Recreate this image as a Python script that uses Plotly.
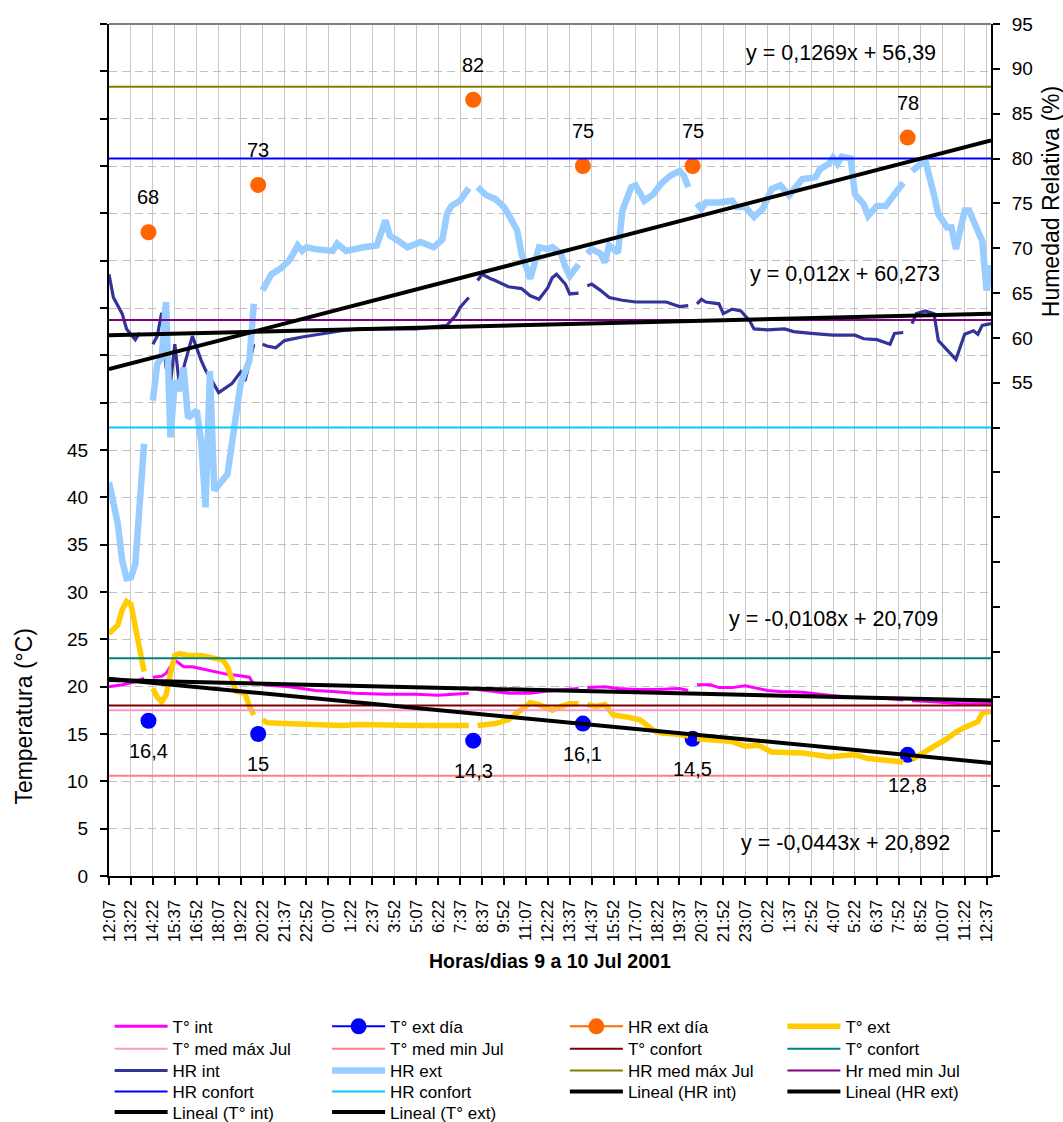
import plotly.graph_objects as go

SANS = "Liberation Sans, Arial, sans-serif"

# ---- category axis: 15-min log rows plus inserted daily spot rows ----
n_rows = 202
time_ticks = ["12:07", "13:22", "14:22", "15:37", "16:52", "18:07", "19:22", "20:22",
              "21:37", "22:52", "0:07", "1:22", "2:37", "3:52", "5:07", "6:22", "7:37",
              "8:37", "9:52", "11:07", "12:22", "13:37", "14:37", "15:52", "17:07",
              "18:22", "19:37", "20:37", "21:52", "23:07", "0:22", "1:37", "2:52",
              "4:07", "5:22", "6:37", "7:52", "8:52", "10:07", "11:22", "12:37"]
tick_rows = list(range(1, n_rows, 5))

# ---- daily spot readings (own rows in the log) ----
dia_rows = [10, 35, 84, 109, 134, 183]
t_ext_dia = [16.4, 15, 14.3, 16.1, 14.5, 12.8]
hr_ext_dia = [68, 73, 82, 75, 75, 78]

# ---- logged series {row: value} ----
t_int = {1: 20.0, 4: 20.2, 7: 20.5, 9: 20.9, 11: 21.0, 13: 21.1, 14: 21.4, 16: 22.8,
         18: 22.1, 20: 22.1, 21: 22.0, 23: 21.8, 26: 21.5, 28: 21.3, 30: 21.2, 32: 21.1,
         33: 21.0, 34: 20.2, 36: 20.2, 39: 20.1, 42: 20.0, 45: 19.8, 48: 19.6, 52: 19.5,
         57: 19.3, 64: 19.2, 71: 19.2, 76: 19.1, 82: 19.3, 83: 19.3, 85: 19.7, 89: 19.5,
         92: 19.3, 97: 19.3, 100: 19.5, 105: 19.7, 108: 19.8, 110: 19.9, 114: 20.0,
         117: 19.8, 121: 19.7, 126: 19.7, 131: 19.8, 133: 19.6, 135: 20.2, 138: 20.2,
         140: 19.9, 143: 19.9, 146: 20.1, 148: 19.9, 151: 19.6, 154: 19.5, 159: 19.4,
         165: 19.1, 170: 18.9, 177: 18.8, 182: 18.6, 184: 18.5, 189: 18.4, 195: 18.2,
         202: 18.2}

t_ext = {1: 25.6, 3: 26.5, 4: 28.1, 5: 29.0, 6: 28.7, 7: 26.3, 8: 23.5, 9: 21.6,
         11: 19.8, 12: 18.9, 13: 18.4, 14: 19.1, 15: 21.4, 16: 23.3, 17: 23.5, 19: 23.3,
         22: 23.3, 25: 23.0, 27: 22.8, 28: 22.1, 29: 20.7, 30: 19.5, 32: 19.3, 33: 17.9,
         34: 17.0, 36: 16.5, 37: 16.2, 41: 16.1, 45: 16.0, 49: 15.9, 54: 15.9, 58: 16.0,
         64: 15.9, 71: 15.9, 79: 15.9, 83: 15.9, 85: 15.9, 89: 16.1, 92: 16.5, 95: 17.5,
         97: 18.3, 99: 18.1, 102: 17.5, 104: 17.9, 106: 18.2, 108: 18.2, 110: 18.1,
         112: 17.9, 114: 18.1, 116: 17.0, 119: 16.8, 122: 16.5, 125: 15.4, 127: 15.1,
         130: 15.0, 132: 14.9, 133: 14.8, 135: 14.5, 137: 14.4, 139: 14.4, 143: 14.2,
         146: 13.7, 149: 13.8, 152: 13.1, 156: 13.1, 159: 13.0, 162: 12.8, 165: 12.6,
         168: 12.7, 171: 12.8, 174: 12.4, 178: 12.3, 181: 12.1, 182: 12.0, 184: 12.3,
         185: 12.6, 189: 13.7, 192: 14.5, 194: 15.2, 196: 15.7, 199: 16.3, 200: 17.2,
         202: 17.4}

hr_int = {1: 67.1, 2: 64.5, 4: 62.7, 5: 61.0, 7: 59.8, 8: 60.6, 11: 59.3, 12: 60.2,
          13: 62.8, 14: 56.7, 15: 54.9, 16: 59.3, 17: 54.9, 18: 56.7, 19: 58.2, 20: 60.2,
          22: 57.5, 23: 56.4, 24: 55.6, 26: 53.9, 29: 54.9, 31: 56.2, 32: 55.2, 34: 59.3,
          36: 59.3, 37: 59.1, 39: 58.9, 41: 59.7, 45: 60.1, 49: 60.4, 54: 60.8, 58: 61.0,
          64: 61.0, 71: 61.0, 78: 61.4, 80: 62.5, 81: 63.4, 83: 64.5, 85: 66.4, 86: 67.1,
          88: 66.6, 89: 66.4, 92: 65.7, 95: 65.5, 97: 64.7, 99: 64.3, 101: 65.6, 102: 66.7,
          103: 67.1, 105: 66.0, 106: 64.9, 108: 65.0, 110: 65.8, 111: 66.0, 113: 65.3,
          115: 64.5, 118: 64.2, 121: 64.0, 124: 64.0, 128: 64.0, 131: 63.5, 133: 63.6,
          135: 63.8, 136: 64.3, 137: 64.0, 140: 63.8, 141: 62.7, 143: 63.2, 145: 63.0,
          147: 61.9, 148: 61.0, 151: 60.9, 155: 61.0, 157: 60.7, 161: 60.5, 166: 60.3,
          171: 60.3, 173: 59.9, 176: 59.8, 179: 59.3, 180: 60.5, 182: 60.6, 184: 61.6,
          185: 62.7, 187: 63.0, 189: 62.7, 190: 59.7, 192: 58.6, 194: 57.6, 196: 60.4,
          198: 60.8, 199: 60.4, 200: 61.4, 202: 61.6}

hr_ext = {1: 43.9, 3: 39.3, 4: 35.2, 5: 33.2, 6: 33.3, 7: 34.8, 9: 48.2, 11: 53.0,
          12: 57.1, 13: 57.8, 14: 64.0, 15: 48.9, 16: 55.2, 17: 54.1, 18: 56.7, 19: 51.1,
          21: 51.9, 22: 48.5, 23: 41.1, 24: 56.3, 25: 43.0, 28: 44.8, 30: 51.1, 31: 54.9,
          33: 57.5, 34: 63.8, 36: 65.3, 38: 67.1, 40: 67.7, 42: 68.6, 43: 69.4, 44: 70.3,
          45: 69.7, 46: 70.1, 48: 69.9, 52: 69.7, 53: 70.5, 55: 69.7, 59: 70.1, 62: 70.3,
          64: 73.1, 65: 71.4, 67: 70.8, 69: 70.1, 72: 70.7, 75: 70.1, 77: 71.0, 78: 73.8,
          79: 74.7, 81: 75.3, 83: 76.7, 85: 76.8, 87: 75.9, 89: 75.5, 91: 74.6, 92: 73.8,
          94: 72.0, 95: 69.4, 97: 66.6, 99: 70.1, 101: 69.9, 102: 70.1, 104: 69.4,
          105: 67.9, 106: 66.9, 108: 68.2, 110: 69.4, 111: 69.9, 113: 69.4, 114: 68.4,
          115: 70.3, 117: 69.5, 118: 74.2, 120: 76.8, 121: 77.0, 123: 75.3, 125: 76.0,
          127: 77.3, 129: 78.1, 131: 78.6, 132: 78.1, 133: 76.8, 135: 75.0, 136: 74.4,
          137: 75.1, 139: 75.1, 140: 75.1, 143: 75.3, 144: 74.6, 146: 74.6, 148: 73.5,
          150: 74.4, 152: 76.6, 154: 77.0, 156: 75.9, 159: 77.7, 162: 77.9, 163: 78.8,
          165: 79.4, 166: 80.1, 167: 79.4, 168: 80.2, 170: 80.0, 171: 76.0, 172: 75.3,
          173: 74.9, 174: 73.6, 176: 74.7, 178: 74.7, 179: 75.3, 180: 76.0, 182: 77.3,
          184: 78.6, 185: 79.0, 187: 79.8, 189: 76.0, 190: 73.8, 192: 72.3, 193: 72.3,
          194: 69.9, 196: 74.2, 197: 74.2, 199: 72.0, 200: 70.8, 201: 65.3, 202: 68.1}

# ---- reference levels ----
t_med_max_jul = 17.5
t_med_min_jul = 10.6
t_confort_min = 18
t_confort_max = 23
hr_med_max_jul = 88
hr_med_min_jul = 62
hr_confort_max = 80
hr_confort_min = 50

# ---- linear trends (slope, intercept) over row number ----
trend_t_int = (-0.0108, 20.709)
trend_t_ext = (-0.0443, 20.892)
trend_hr_int = (0.012, 60.273)
trend_hr_ext = (0.1269, 56.39)


def comma(v):
    return f"{v:g}".replace(".", ",")


def logged(series):
    """Rows and values with a break at every spot-reading row."""
    rows = sorted(set(series) | set(dia_rows))
    return rows, [series.get(r) for r in rows]


def spot(values):
    """Isolated points: each followed by an empty row so no segment joins them."""
    xs, ys = [], []
    for r, v in zip(dia_rows, values):
        xs += [r, r + 1]
        ys += [v, None]
    return xs, ys


def level(v):
    return [1, n_rows], [v, v]


def trend(coef):
    a, b = coef
    xs = [1, n_rows]
    return xs, [a * x + b for x in xs]


def eq_text(coef):
    a, b = coef
    return f"y = {comma(a)}x + {comma(b)}"


fig = go.Figure()

# The key is 5 rows x 4 columns; each row is split into a left pair and a right pair.
KEY = {(r, side): ("legend" if (r == 0 and side == 0) else f"legend{2 * r + side + 1}")
       for r in range(5) for side in range(2)}


def add_line(xy, name, color, width, legend, yaxis="y"):
    xs, ys = xy
    fig.add_trace(go.Scatter(x=xs, y=ys, name=name, mode="lines", yaxis=yaxis,
                             line=dict(color=color, width=width), legend=legend,
                             connectgaps=False, hoverinfo="skip"))


def add_spot(values, name, color, legend):
    xs, ys = spot(values)
    fig.add_trace(go.Scatter(x=xs, y=ys, name=name, mode="lines+markers",
                             line=dict(color=color, width=2),
                             marker=dict(color=color, size=16), legend=legend,
                             connectgaps=False, hoverinfo="skip"))


# key row 1
add_line(logged(t_int), "T° int", "#FF00FF", 3, KEY[0, 0])
add_spot(t_ext_dia, "T° ext día", "#0000FF", KEY[0, 0])
add_spot(hr_ext_dia, "HR ext día", "#FF6600", KEY[0, 1])
add_line(logged(t_ext), "T° ext", "#FFCC00", 5.5, KEY[0, 1])

# key row 2
add_line(level(t_med_max_jul), "T° med máx Jul", "#FF99CC", 2, KEY[1, 0])
add_line(level(t_med_min_jul), "T° med min Jul", "#FF8080", 2, KEY[1, 0])
add_line(level(t_confort_min), "T° confort", "#800000", 2, KEY[1, 1])
add_line(level(t_confort_max), "T° confort", "#008080", 2, KEY[1, 1])

# key row 3 (humidity on the right-hand axis)
add_line(logged(hr_int), "HR int", "#333399", 3.2, KEY[2, 0], yaxis="y2")
add_line(logged(hr_ext), "HR ext", "#99CCFF", 6.5, KEY[2, 0], yaxis="y2")
add_line(level(hr_med_max_jul), "HR med máx Jul", "#808000", 2, KEY[2, 1], yaxis="y2")
add_line(level(hr_med_min_jul), "Hr med min Jul", "#800080", 2, KEY[2, 1], yaxis="y2")

# key row 4
add_line(level(hr_confort_max), "HR confort", "#0000FF", 2, KEY[3, 0], yaxis="y2")
add_line(level(hr_confort_min), "HR confort", "#00CCFF", 2, KEY[3, 0], yaxis="y2")
add_line(trend(trend_hr_int), "Lineal (HR int)", "#000000", 4, KEY[3, 1], yaxis="y2")
add_line(trend(trend_hr_ext), "Lineal (HR ext)", "#000000", 4, KEY[3, 1], yaxis="y2")

# key row 5
add_line(trend(trend_t_int), "Lineal (T° int)", "#000000", 4, KEY[4, 0])
add_line(trend(trend_t_ext), "Lineal (T° ext)", "#000000", 4, KEY[4, 0])

# ---- value labels of the spot readings ----
annotations = []
label_font = dict(family=SANS, size=20, color="black")
for r, v in zip(dia_rows, t_ext_dia):
    annotations.append(dict(x=r, y=v, xref="x", yref="y", text=comma(v), showarrow=False,
                            xanchor="center", yanchor="middle", yshift=-30, font=label_font))
for r, v in zip(dia_rows, hr_ext_dia):
    annotations.append(dict(x=r, y=v, xref="x", yref="y", text=comma(v), showarrow=False,
                            xanchor="center", yanchor="middle", yshift=35, font=label_font))

# ---- trend equations ----
for coef, (px, py) in [(trend_hr_ext, (0.830, 0.966)), (trend_hr_int, (0.8345, 0.7066)),
                       (trend_t_int, (0.821, 0.3016)), (trend_t_ext, (0.8345, 0.0387))]:
    annotations.append(dict(x=px, y=py, xref="paper", yref="paper", text=eq_text(coef),
                            showarrow=False, xanchor="center", yanchor="middle",
                            font=dict(family=SANS, size=21.5, color="black")))

# ---- axis titles ----
annotations += [
    dict(x=-0.0966, y=0.188, xref="paper", yref="paper", text="Temperatura (°C)",
         textangle=-90, showarrow=False, xanchor="center", yanchor="middle",
         font=dict(family=SANS, size=23, color="black")),
    dict(x=1.0680, y=0.792, xref="paper", yref="paper", text="Humedad Relativa (%)",
         textangle=-90, showarrow=False, xanchor="center", yanchor="middle",
         font=dict(family=SANS, size=23, color="black")),
    dict(x=0.5, y=-0.0998, xref="paper", yref="paper",
         text="<b>Horas/dias 9 a 10 Jul 2001</b>", showarrow=False,
         xanchor="center", yanchor="middle",
         font=dict(family=SANS, size=19.5, color="black")),
]

# ---- key placement ----
row_y = [0.0849, 0.0648, 0.0455, 0.0267, 0.0086]
pair_x = [0.1031, 0.5314]
legend_layout = {}
for (r, side), name in KEY.items():
    legend_layout[name] = dict(orientation="h", xref="container", yref="container",
                               x=pair_x[side], xanchor="left", y=row_y[r], yanchor="middle",
                               entrywidth=149.5, entrywidthmode="pixels", itemwidth=53,
                               traceorder="normal", bgcolor="rgba(0,0,0,0)",
                               borderwidth=0, tracegroupgap=0,
                               font=dict(family=SANS, size=17, color="black"))

axis_common = dict(showline=True, linecolor="black", linewidth=2, ticks="outside",
                   ticklen=7, tickwidth=1.5, tickcolor="black", zeroline=False)
# inward half of the crossing tick marks
inner_ticks = dict(ticks="inside", ticklen=7, tickwidth=1.5, tickcolor="black",
                   showticklabels=False, showgrid=False, showline=False, zeroline=False,
                   tickmode="array")

fig.update_layout(
    width=1063, height=1122,
    margin=dict(l=109, r=72, t=24, b=246, autoexpand=False),
    paper_bgcolor="white", plot_bgcolor="white",
    separators=",.",
    font=dict(family=SANS, size=17, color="black"),
    annotations=annotations,
    xaxis=dict(range=[1, n_rows], tickmode="array", tickvals=tick_rows, ticktext=time_ticks,
               tickangle=-90, tickfont=dict(family=SANS, size=17),
               showgrid=True, gridcolor="#C8C8C8", gridwidth=1, ticklabelstandoff=8,
               **axis_common),
    yaxis=dict(range=[0, 90], tickmode="array", tickvals=list(range(0, 91, 5)),
               ticktext=[str(v) if v <= 45 else "" for v in range(0, 91, 5)],
               tickfont=dict(family=SANS, size=19), ticklabelstandoff=8,
               showgrid=True, gridcolor="#C0C0C0", gridwidth=1, griddash="8px,5px",
               **axis_common),
    yaxis2=dict(range=[0, 95], overlaying="y", side="right", tickmode="array",
                tickvals=list(range(0, 96, 5)),
                ticktext=[str(v) if v >= 55 else "" for v in range(0, 96, 5)],
                tickfont=dict(family=SANS, size=19), ticklabelstandoff=8,
                showgrid=False, **axis_common),
    xaxis2=dict(overlaying="x", anchor="y", range=[1, n_rows], tickvals=tick_rows,
                **inner_ticks),
    yaxis3=dict(overlaying="y", anchor="x", side="left", range=[0, 90],
                tickvals=list(range(0, 91, 5)), **inner_ticks),
    yaxis4=dict(overlaying="y", anchor="x", side="right", range=[0, 95],
                tickvals=list(range(0, 96, 5)), **inner_ticks),
    shapes=[dict(type="line", xref="paper", yref="paper", x0=0, x1=1, y0=1, y1=1,
                 line=dict(color="#808080", width=2))],
    **legend_layout,
)

fig.write_html("out.html")
